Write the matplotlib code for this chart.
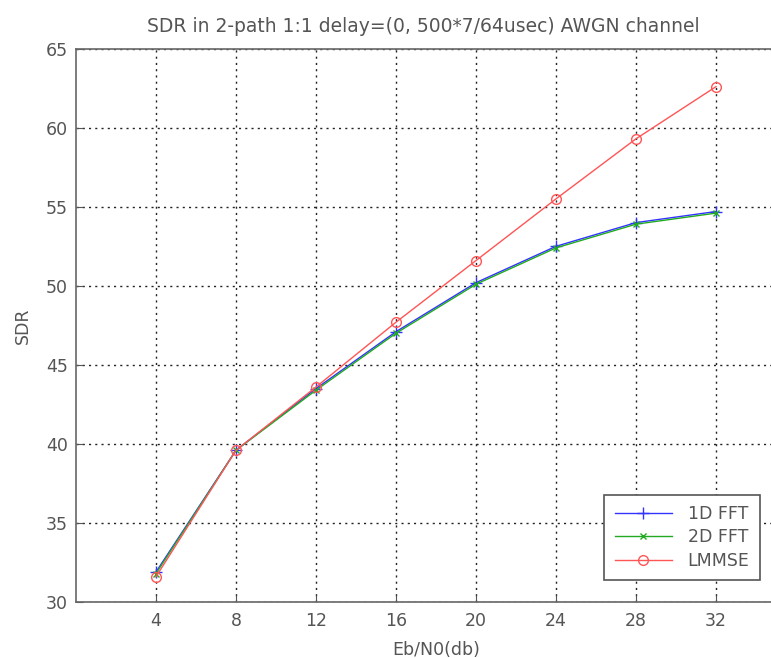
import matplotlib
matplotlib.use("Agg")
import matplotlib.pyplot as plt

ebn0 = [4, 8, 12, 16, 20, 24, 28, 32]
sdr_1d_fft = [31.9, 39.6, 43.5, 47.1, 50.2, 52.5, 54.0, 54.7]
sdr_2d_fft = [31.8, 39.6, 43.4, 47.0, 50.1, 52.4, 53.9, 54.6]
sdr_lmmse = [31.6, 39.6, 43.6, 47.7, 51.6, 55.5, 59.3, 62.6]
xticks = [4, 8, 12, 16, 20, 24, 28, 32]
yticks = [30, 35, 40, 45, 50, 55, 60, 65]

plt.rcParams['font.family'] = ['DejaVu Sans']

fig = plt.figure(figsize=(7.71, 6.58), dpi=100)
ax = fig.add_axes([76/771, 1-602/658, 720/771, 553.3/658])

ax.plot(ebn0, sdr_1d_fft, color='#3333ff', marker='+', ms=8, lw=1.0, mew=1.0, label='1D FFT')
ax.plot(ebn0, sdr_2d_fft, color='#22aa22', marker='x', ms=5, lw=1.0, mew=1.0, label='2D FFT')
ax.plot(ebn0, sdr_lmmse, color='#ff5555', marker='o', ms=7, lw=1.0, mew=1.0, mfc='none', label='LMMSE')

ax.set_xlim(0, 36)
ax.set_ylim(30, 65)
ax.set_xticks(xticks)
ax.set_yticks(yticks)
ax.tick_params(direction='in', length=5, labelsize=12.5, colors='#555555', labelcolor='#555555')
ax.tick_params(axis='x', pad=7)
ax.tick_params(axis='y', pad=6)
ax.grid(True, linestyle=(0, (1.5, 3)), color='#222222', linewidth=1.0)
for s in ax.spines.values():
    s.set_color('#666666')
    s.set_linewidth(1.2)

ax.set_title('SDR in 2-path 1:1 delay=(0, 500*7/64usec) AWGN channel', fontsize=13.5,
             color='#555555', pad=12, x=0.482)
ax.set_xlabel('Eb/N0(db)', fontsize=12.5, color='#555555', labelpad=8)
ax.set_ylabel('SDR', fontsize=12.5, color='#555555', labelpad=10)

leg = ax.legend(loc='lower right', bbox_to_anchor=(684/720, 22/553.3), fancybox=False,
                edgecolor='#555555', framealpha=1, fontsize=12.5, handlelength=3.3,
                handletextpad=0.9, borderpad=0.6, labelspacing=0.3, borderaxespad=0)
leg.get_frame().set_linewidth(1.2)
for t in leg.get_texts():
    t.set_color('#555555')

fig.savefig('out.png', dpi=100)
